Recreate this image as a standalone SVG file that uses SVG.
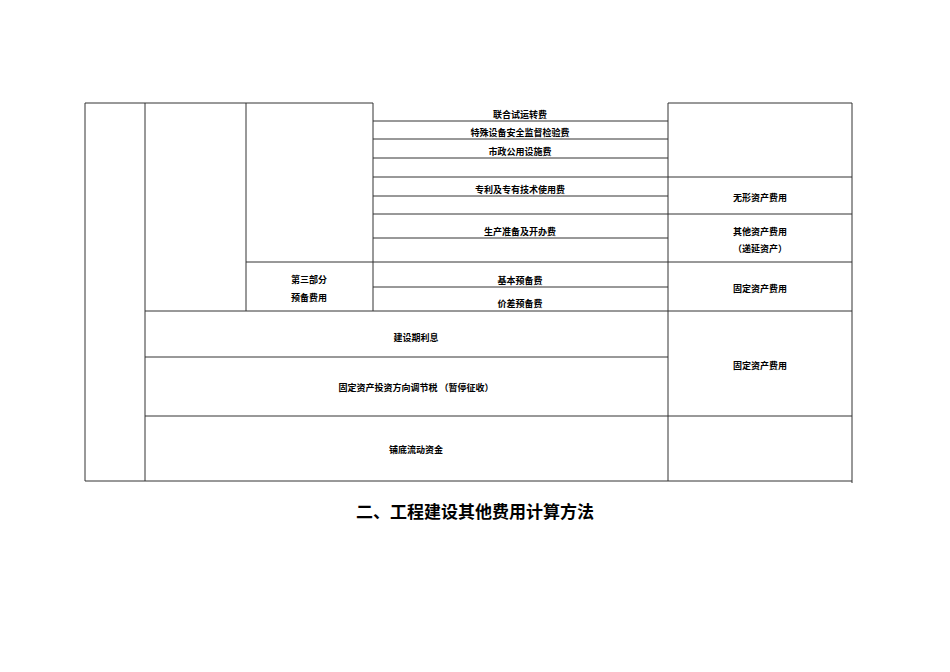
<svg xmlns="http://www.w3.org/2000/svg" width="950" height="672" viewBox="0 0 950 672">
<style>
.l{stroke:#333;stroke-width:1;fill:none}
.t{font-family:"Noto Sans CJK SC",sans-serif;font-size:9px;font-weight:bold;text-anchor:middle;fill:#000}
.h{font-family:"Noto Sans CJK SC",sans-serif;font-size:17px;font-weight:bold;text-anchor:middle;fill:#000}
</style>
<rect width="950" height="672" fill="#fff"/>
<g id="grid">
<path class="l" d="M85 103H373M668 103H852M85 103V481M145 103V481M246 103V311M373 103V311M668 103V481M852 103V483M85 481H852
M373 121H668M373 139H668M373 158H668M373 177H852M373 196H668M373 214H852M373 238H668M246 262H852M373 287H668M145 311H852M145 357H668M145 416H852"/>
</g>
<g id="texts">
<text class="t" x="520" y="118">联合试运转费</text>
<text class="t" x="520" y="136">特殊设备安全监督检验费</text>
<text class="t" x="520" y="155">市政公用设施费</text>
<text class="t" x="520" y="193">专利及专有技术使用费</text>
<text class="t" x="520" y="235">生产准备及开办费</text>
<text class="t" x="520" y="284">基本预备费</text>
<text class="t" x="520" y="307">价差预备费</text>
<text class="t" x="309" y="283">第三部分</text>
<text class="t" x="309" y="301">预备费用</text>
<text class="t" x="760" y="201">无形资产费用</text>
<text class="t" x="760" y="235">其他资产费用</text>
<text class="t" x="760" y="252">（递延资产）</text>
<text class="t" x="760" y="292">固定资产费用</text>
<text class="t" x="760" y="369">固定资产费用</text>
<text class="t" x="416" y="341">建设期利息</text>
<text class="t" x="416" y="391">固定资产投资方向调节税 （暂停征收）</text>
<text class="t" x="416" y="453">铺底流动资金</text>
<text class="h" x="475" y="518">二、工程建设其他费用计算方法</text>
</g>
</svg>
